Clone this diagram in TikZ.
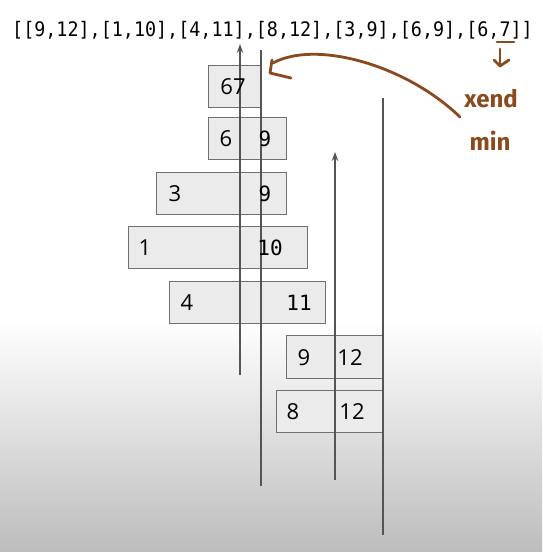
\documentclass[tikz,border=0pt]{standalone}
\usepackage{fontspec}
\usetikzlibrary{arrows.meta}
\newfontfamily\monofont{DejaVu Sans Mono}
\newfontfamily\boxfont{Open Sans}
\newfontfamily\handfont{Fira Sans}
\definecolor{boxfill}{HTML}{EBEBEB}
\definecolor{boxline}{HTML}{707070}
\definecolor{rule}{HTML}{555555}
\definecolor{ink}{HTML}{8B4A1E}
% vertical fade, grey at the bottom, white at the top (TikZ maps the 25bp..75bp band onto the path)
\pgfdeclareverticalshading{floorfade}{100bp}{color(0bp)=(black!26); color(25bp)=(black!26); color(75bp)=(white); color(100bp)=(white)}
\tikzset{
  interval/.style={draw=boxline, fill=boxfill, line width=1.1pt, inner sep=0pt, anchor=north west},
  num/.style={inner sep=0pt, font=\boxfont\fontsize{22}{24}\selectfont},
  mnum/.style={inner sep=0pt, font=\monofont\fontsize{21}{24}\selectfont},
  sweep/.style={draw=rule, line width=1.4pt},
  sweeparrow/.style={sweep, -{Stealth[length=9pt,width=6.5pt]}},
  pen/.style={draw=ink, line width=2.8pt, line cap=round, line join=round},
  hand/.style={inner sep=0pt, text=ink, font=\handfont\bfseries\fontsize{24}{26}\selectfont},
}
\begin{document}
\begin{tikzpicture}[x=1pt, y=-1pt]
\useasboundingbox (0,0) rectangle (542,552);
% background: white top fading to grey at the bottom
\fill[white] (0,0) rectangle (542,321);
\shade[shading=floorfade] (0,320) rectangle (542,552);

% input list
\node[inner sep=0pt, anchor=base] (input) at (272.5,36)
  {\scalebox{0.92}[1]{\monofont\fontsize{20}{22}\selectfont [[9,12],[1,10],[4,11],[8,12],[3,9],[6,9],[6,7]]}};

% interval boxes
\node[interval, minimum width=53pt, minimum height=42pt]  (i67) at (208,65) {};
\node[interval, minimum width=78pt, minimum height=42pt]  (i69) at (208,117) {};
\node[interval, minimum width=130pt, minimum height=42pt] (i39) at (156,172) {};
\node[interval, minimum width=179pt, minimum height=42pt] (i110) at (128,226) {};
\node[interval, minimum width=156pt, minimum height=42pt] (i411) at (169,281) {};
\node[interval, minimum width=97pt, minimum height=43pt]  (i912) at (286,335) {};
\node[interval, minimum width=107pt, minimum height=42pt] (i812) at (276,390) {};

% sweep lines
\coordinate (a1b) at (240,375);  \coordinate (a1t) at (240,44);
\coordinate (l1t) at (261,50);   \coordinate (l1b) at (261,486);
\coordinate (a2b) at (335,480);  \coordinate (a2t) at (335,152);
\coordinate (l2t) at (383,98);   \coordinate (l2b) at (383,535);
\draw[sweeparrow] (a1b) -- (a1t);
\draw[sweep] (l1t) -- (l1b);
\draw[sweeparrow] (a2b) -- (a2t);
\draw[sweep] (l2t) -- (l2b);

% interval labels
\node[num] (t67) at (233,87) {67};
\node[num] (s6) at (226,139) {6};   \node[mnum] (e6) at (265,139) {9};
\node[num] (s3) at (175,194) {3};   \node[mnum] (e3) at (265,194) {9};
\node[num] (s1) at (145,248) {1};   \node[mnum] (e1) at (270,248) {10};
\node[num] (s4) at (187,303) {4};   \node[mnum] (e4) at (299,303) {11};
\node[num] (s9) at (304,358) {9};   \node[num] (e9) at (350,358) {12};
\node[num] (s8) at (293,412) {8};   \node[num] (e8) at (352,412) {12};

% handwritten notes
\coordinate (c0) at (460,117);
\coordinate (c1) at (273,63);
\draw[pen] (c0) .. controls (405,64) and (315,40) .. (c1);
\draw[pen] (272,60) -- (270,73) -- (291,78);
\coordinate (m0) at (497,42);
\coordinate (m1) at (514,42);
\draw[pen] (m0) -- (m1);
\coordinate (d0) at (500,49);
\coordinate (d1) at (500,66);
\draw[pen] (d0) -- (d1);
\draw[pen] (494,60) -- (d1) -- (509,60);
\node[hand] (xend) at (491,99) {xend};
\node[hand] (mn) at (490,141) {min};
\end{tikzpicture}
\end{document}
